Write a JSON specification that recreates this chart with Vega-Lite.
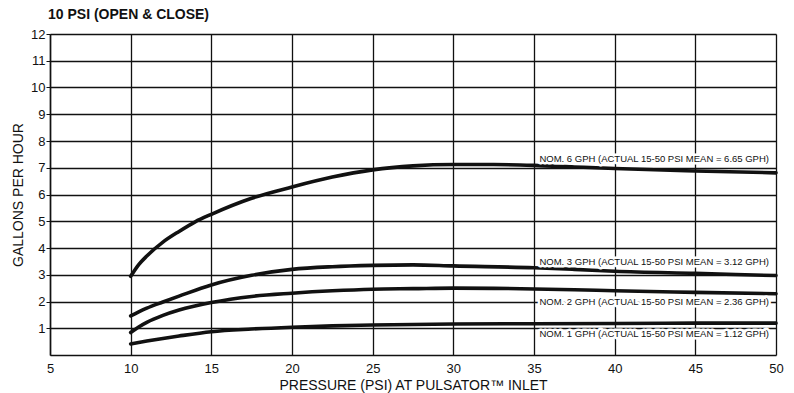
{
  "$schema": "https://vega.github.io/schema/vega-lite/v6.json",
  "width": 726,
  "height": 321,
  "autosize": {"type": "none"},
  "padding": {"left": 50, "top": 34, "right": 18, "bottom": 38},
  "background": "white",
  "title": {
    "text": "10 PSI (OPEN & CLOSE)",
    "anchor": "start",
    "frame": "group",
    "font": "Liberation Sans",
    "fontSize": 14,
    "fontWeight": "bold",
    "color": "#111",
    "baseline": "bottom",
    "offset": -8,
    "dx": -2
  },
  "config": {
    "view": {"stroke": null},
    "axis": {
      "labelFont": "Liberation Sans",
      "titleFont": "Liberation Sans",
      "labelColor": "#111",
      "titleColor": "#111",
      "labelFontSize": 13,
      "titleFontSize": 14,
      "titleFontWeight": "normal",
      "domainColor": "#111",
      "domainWidth": 1.5,
      "gridColor": "#111",
      "gridWidth": 1.3,
      "gridOpacity": 1,
      "tickColor": "#111",
      "labelOverlap": false
    }
  },
  "datasets": {
    "curves": [
      {"nominal": "6 GPH", "psi": 10, "gph": 2.94},
      {"nominal": "6 GPH", "psi": 10.5, "gph": 3.38},
      {"nominal": "6 GPH", "psi": 11, "gph": 3.7},
      {"nominal": "6 GPH", "psi": 12, "gph": 4.22},
      {"nominal": "6 GPH", "psi": 13, "gph": 4.62},
      {"nominal": "6 GPH", "psi": 14, "gph": 4.98},
      {"nominal": "6 GPH", "psi": 15, "gph": 5.26},
      {"nominal": "6 GPH", "psi": 17.5, "gph": 5.86},
      {"nominal": "6 GPH", "psi": 20, "gph": 6.28},
      {"nominal": "6 GPH", "psi": 22.5, "gph": 6.65},
      {"nominal": "6 GPH", "psi": 25, "gph": 6.92},
      {"nominal": "6 GPH", "psi": 27.5, "gph": 7.07},
      {"nominal": "6 GPH", "psi": 30, "gph": 7.12},
      {"nominal": "6 GPH", "psi": 32.5, "gph": 7.12},
      {"nominal": "6 GPH", "psi": 35, "gph": 7.09},
      {"nominal": "6 GPH", "psi": 37.5, "gph": 7.03},
      {"nominal": "6 GPH", "psi": 40, "gph": 6.97},
      {"nominal": "6 GPH", "psi": 45, "gph": 6.88},
      {"nominal": "6 GPH", "psi": 50, "gph": 6.81},
      {"nominal": "3 GPH", "psi": 10, "gph": 1.46},
      {"nominal": "3 GPH", "psi": 10.5, "gph": 1.61},
      {"nominal": "3 GPH", "psi": 11, "gph": 1.75},
      {"nominal": "3 GPH", "psi": 12, "gph": 1.98},
      {"nominal": "3 GPH", "psi": 13, "gph": 2.2},
      {"nominal": "3 GPH", "psi": 15, "gph": 2.62},
      {"nominal": "3 GPH", "psi": 17.5, "gph": 2.98},
      {"nominal": "3 GPH", "psi": 20, "gph": 3.2},
      {"nominal": "3 GPH", "psi": 22.5, "gph": 3.3},
      {"nominal": "3 GPH", "psi": 25, "gph": 3.35},
      {"nominal": "3 GPH", "psi": 27.5, "gph": 3.37},
      {"nominal": "3 GPH", "psi": 30, "gph": 3.33},
      {"nominal": "3 GPH", "psi": 35, "gph": 3.26},
      {"nominal": "3 GPH", "psi": 37.5, "gph": 3.2},
      {"nominal": "3 GPH", "psi": 40, "gph": 3.13},
      {"nominal": "3 GPH", "psi": 45, "gph": 3.05},
      {"nominal": "3 GPH", "psi": 50, "gph": 2.97},
      {"nominal": "2 GPH", "psi": 10, "gph": 0.84},
      {"nominal": "2 GPH", "psi": 10.5, "gph": 1.05},
      {"nominal": "2 GPH", "psi": 11, "gph": 1.22},
      {"nominal": "2 GPH", "psi": 12, "gph": 1.48},
      {"nominal": "2 GPH", "psi": 13, "gph": 1.68},
      {"nominal": "2 GPH", "psi": 15, "gph": 1.96},
      {"nominal": "2 GPH", "psi": 17.5, "gph": 2.19},
      {"nominal": "2 GPH", "psi": 20, "gph": 2.31},
      {"nominal": "2 GPH", "psi": 22.5, "gph": 2.4},
      {"nominal": "2 GPH", "psi": 25, "gph": 2.46},
      {"nominal": "2 GPH", "psi": 27.5, "gph": 2.48},
      {"nominal": "2 GPH", "psi": 30, "gph": 2.5},
      {"nominal": "2 GPH", "psi": 35, "gph": 2.47},
      {"nominal": "2 GPH", "psi": 37.5, "gph": 2.44},
      {"nominal": "2 GPH", "psi": 40, "gph": 2.4},
      {"nominal": "2 GPH", "psi": 45, "gph": 2.34},
      {"nominal": "2 GPH", "psi": 50, "gph": 2.29},
      {"nominal": "1 GPH", "psi": 10, "gph": 0.41},
      {"nominal": "1 GPH", "psi": 11, "gph": 0.52},
      {"nominal": "1 GPH", "psi": 12, "gph": 0.62},
      {"nominal": "1 GPH", "psi": 13, "gph": 0.71},
      {"nominal": "1 GPH", "psi": 15, "gph": 0.87},
      {"nominal": "1 GPH", "psi": 17.5, "gph": 0.97},
      {"nominal": "1 GPH", "psi": 20, "gph": 1.04},
      {"nominal": "1 GPH", "psi": 22.5, "gph": 1.09},
      {"nominal": "1 GPH", "psi": 25, "gph": 1.12},
      {"nominal": "1 GPH", "psi": 30, "gph": 1.16},
      {"nominal": "1 GPH", "psi": 35, "gph": 1.17},
      {"nominal": "1 GPH", "psi": 40, "gph": 1.18},
      {"nominal": "1 GPH", "psi": 45, "gph": 1.19},
      {"nominal": "1 GPH", "psi": 50, "gph": 1.19}
    ],
    "labels": [
      {"psi": 42.45, "gph": 7.31, "label": "NOM. 6 GPH (ACTUAL 15-50 PSI MEAN = 6.65 GPH)"},
      {"psi": 42.45, "gph": 3.48, "label": "NOM. 3 GPH (ACTUAL 15-50 PSI MEAN = 3.12 GPH)"},
      {"psi": 42.45, "gph": 2.0, "label": "NOM. 2 GPH (ACTUAL 15-50 PSI MEAN = 2.36 GPH)"},
      {"psi": 42.45, "gph": 0.78, "label": "NOM. 1 GPH (ACTUAL 15-50 PSI MEAN = 1.12 GPH)"}
    ]
  },
  "layer": [
    {
      "data": {"name": "curves"},
      "mark": {"type": "line", "interpolate": "monotone", "strokeWidth": 3.6, "color": "#111", "strokeCap": "round"},
      "encoding": {
        "x": {
          "field": "psi", "type": "quantitative",
          "scale": {"domain": [5, 50], "nice": false, "zero": false},
          "axis": {
            "values": [5, 10, 15, 20, 25, 30, 35, 40, 45, 50],
            "tickCount": 20,
            "format": "d",
            "title": "PRESSURE (PSI) AT PULSATOR™ INLET",
            "grid": true,
            "ticks": false,
            "labelPadding": 7,
            "titlePadding": 3,
            "labelFlush": false
          }
        },
        "y": {
          "field": "gph", "type": "quantitative",
          "scale": {"domain": [0, 12], "nice": false},
          "axis": {
            "values": [1, 2, 3, 4, 5, 6, 7, 8, 9, 10, 11, 12],
            "tickCount": 24,
            "format": "d",
            "title": "GALLONS PER HOUR",
            "grid": true,
            "ticks": true,
            "tickSize": 4,
            "labelPadding": 1,
            "titlePadding": 5,
            "labelFlush": false
          }
        },
        "detail": {"field": "nominal", "type": "nominal"}
      }
    },
    {
      "data": {"name": "labels"},
      "mark": {"type": "text", "font": "Liberation Sans", "fontSize": 9.5, "align": "center", "baseline": "middle", "fill": "white", "stroke": "white", "strokeWidth": 5, "strokeJoin": "round"},
      "encoding": {
        "x": {"field": "psi", "type": "quantitative"},
        "y": {"field": "gph", "type": "quantitative"},
        "text": {"field": "label", "type": "nominal"}
      }
    },
    {
      "data": {"name": "labels"},
      "mark": {"type": "text", "font": "Liberation Sans", "fontSize": 9.5, "align": "center", "baseline": "middle", "color": "#111"},
      "encoding": {
        "x": {"field": "psi", "type": "quantitative"},
        "y": {"field": "gph", "type": "quantitative"},
        "text": {"field": "label", "type": "nominal"}
      }
    }
  ]
}
